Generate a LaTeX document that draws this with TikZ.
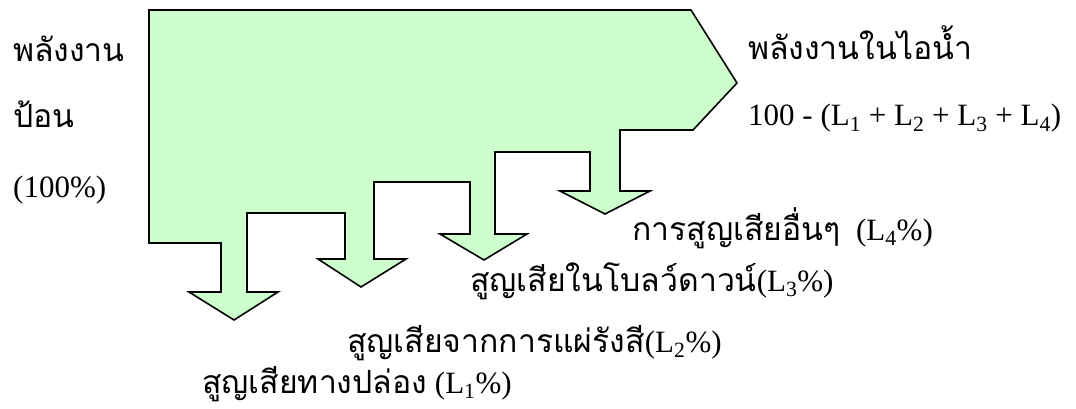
\documentclass[tikz,border=0pt]{standalone}
\usepackage{fontspec}
\setmainfont{Liberation Serif}
\newfontfamily\thai[Script=Thai,Scale=1.03]{Loma}
\definecolor{flowgreen}{HTML}{CCFFCC}
\begin{document}
\begin{tikzpicture}[x=1pt,y=-1pt,
  flow/.style={fill=flowgreen, draw=black, line width=1.6pt, line join=miter},
  lbl/.style={anchor=base west, inner sep=0pt, font=\fontsize{31}{36}\selectfont}]
\useasboundingbox (0,0) rectangle (1076,409);
% main flow shape with four loss arrows
\path[flow] (149,10) -- (691,10) -- (737,83) -- (693,130) -- (620,130)
  -- (620,191) -- (650,191) -- (605,214) -- (560,191) -- (590,191)
  -- (590,152) -- (495,152)
  -- (495,234) -- (527,234) -- (484,260) -- (440,234) -- (470,234)
  -- (470,182) -- (374,182)
  -- (374,259) -- (406,259) -- (361,287) -- (318,259) -- (345,259)
  -- (345,213) -- (247,213)
  -- (247,292) -- (278,292) -- (234,320) -- (189,292) -- (221,292)
  -- (221,243) -- (149,243) -- cycle;
% labels
\node[lbl] (in1) at (13,62) {\thai พลังงาน};
\node[lbl] (in2) at (13,128) {\thai ป้อน};
\node[lbl] (in3) at (13,197) {(100\%)};
\node[lbl] (out1) at (748,60) {\thai พลังงานในไอน้ำ};
\node[lbl] (out2) at (748,126) {100 - (L\textsubscript{1} + L\textsubscript{2} + L\textsubscript{3} + L\textsubscript{4})};
\node[lbl] (l4) at (632,240) {{\thai การสูญเสียอื่นๆ}\ \ (L\textsubscript{4}\%)};
\node[lbl] (l3) at (470,291) {{\thai สูญเสียในโบลว์ดาวน์}(L\textsubscript{3}\%)};
\node[lbl] (l2) at (347,352) {{\thai สูญเสียจากการแผ่รังสี}(L\textsubscript{2}\%)};
\node[lbl] (l1) at (202,393) {{\thai สูญเสียทางปล่อง} (L\textsubscript{1}\%)};
\end{tikzpicture}
\end{document}
